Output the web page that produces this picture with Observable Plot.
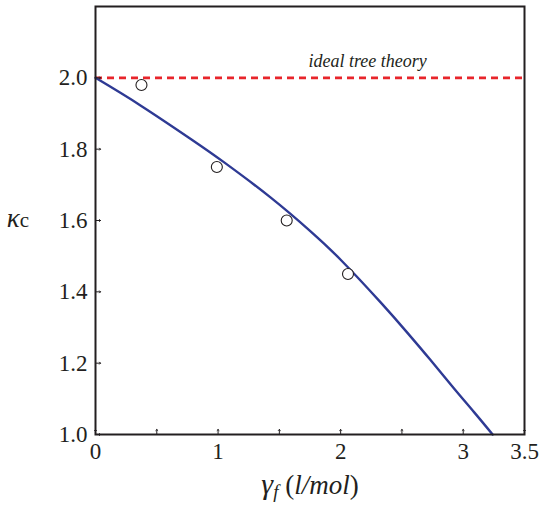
<!DOCTYPE html>
<html>
<head>
<meta charset="utf-8">
<script src="https://cdn.jsdelivr.net/npm/d3@7"></script>
<script src="https://cdn.jsdelivr.net/npm/@observablehq/plot@0.6"></script>
<style>
  html, body { margin: 0; padding: 0; background: #fff; }
  #chart svg { display: block; }
  #chart svg, #chart svg text, #chart svg tspan { font-family: "Liberation Serif", "Times New Roman", Times, Tinos, serif !important; }
</style>
</head>
<body>
<div id="chart"></div>
<script>
// Data
const curveX = [0, 0.37, 0.78, 1.05, 1.43, 1.75, 2.0, 2.33, 2.54, 2.73, 2.92, 3.09, 3.24];
const curveY = [2.0, 1.922, 1.828, 1.763, 1.664, 1.571, 1.490, 1.369, 1.287, 1.210, 1.131, 1.062, 1.0];
const pointX = [0.375, 0.99, 1.56, 2.06];
const pointY = [1.98, 1.75, 1.60, 1.45];
const idealY = 2.0;
const idealLabel = "ideal tree theory";
const idealLabelX = 2.22;
const xTickValues = [0, 1, 2, 3, 3.5];
const xTickLabels = ["0", "1", "2", "3", "3.5"];
const xMinorTicks = [0.5, 1.5, 2.5];
const yTickValues = [1.0, 1.2, 1.4, 1.6, 1.8, 2.0];
const yTickLabels = ["1.0", "1.2", "1.4", "1.6", "1.8", "2.0"];

const curve = curveX.map((x, i) => ({x, y: curveY[i]}));
const points = pointX.map((x, i) => ({x, y: pointY[i]}));

const font = "Liberation Serif, Times New Roman, serif";
const ink = "#231f20";

const plot = Plot.plot({
  width: 560,
  height: 506,
  marginLeft: 95,
  marginRight: 36,
  marginTop: 6,
  marginBottom: 72,
  style: {fontFamily: font, background: "#fff", color: ink},
  x: {domain: [0, 3.5]},
  y: {domain: [1.0, 2.2]},
  marks: [
    Plot.ruleY([idealY], {x1: 0, x2: 3.5, stroke: "#e8252b", strokeWidth: 2.6, strokeDasharray: "7,5"}),
    Plot.text([idealLabel], {x: idealLabelX, y: idealY, text: d => d, dy: -17, fontSize: 18, fontStyle: "italic", fill: ink}),
    Plot.line(curve, {x: "x", y: "y", curve: "natural", stroke: "#2e3a94", strokeWidth: 2.4}),
    Plot.dot(points, {x: "x", y: "y", r: 5.5, fill: "white", stroke: ink, strokeWidth: 1.1}),
    Plot.vector(yTickValues, {x: 0, y: d => d, length: 5, rotate: 90, anchor: "start", stroke: ink, strokeWidth: 1}),
    Plot.vector(xTickValues.concat(xMinorTicks), {x: d => d, y: 1.0, length: 5, rotate: 0, anchor: "start", stroke: ink, strokeWidth: 1}),
    Plot.axisY({ticks: yTickValues, tickFormat: d => yTickLabels[yTickValues.indexOf(d)], tickSize: 0, tickPadding: 8, fontSize: 23, label: null, fill: ink}),
    Plot.axisX({ticks: xTickValues, tickFormat: d => xTickLabels[xTickValues.indexOf(d)], tickSize: 0, tickPadding: 8, fontSize: 23, label: null, fill: ink}),
    Plot.frame({stroke: ink, strokeWidth: 2})
  ]
});

document.getElementById("chart").appendChild(plot);

const svg = d3.select(plot);
// y-axis label: kappa_c
const yl = svg.append("text")
  .attr("x", 18).attr("y", 227)
  .attr("fill", ink);
yl.append("tspan").attr("font-size", 27).attr("font-style", "italic").text("κ");
yl.append("tspan").attr("font-size", 21).text("c");

// x-axis label: gamma_f (l/mol)
const xl = svg.append("text")
  .attr("x", 310).attr("y", 494)
  .attr("text-anchor", "middle")
  .attr("fill", ink);
xl.append("tspan").attr("font-size", 30).attr("font-style", "italic").text("γ");
xl.append("tspan").attr("font-size", 19).attr("font-style", "italic").attr("dy", 4).text("f");
xl.append("tspan").attr("font-size", 27).attr("dy", -4).text(" (");
xl.append("tspan").attr("font-size", 27).attr("font-style", "italic").text("l/mol");
xl.append("tspan").attr("font-size", 27).text(")");
</script>
</body>
</html>
